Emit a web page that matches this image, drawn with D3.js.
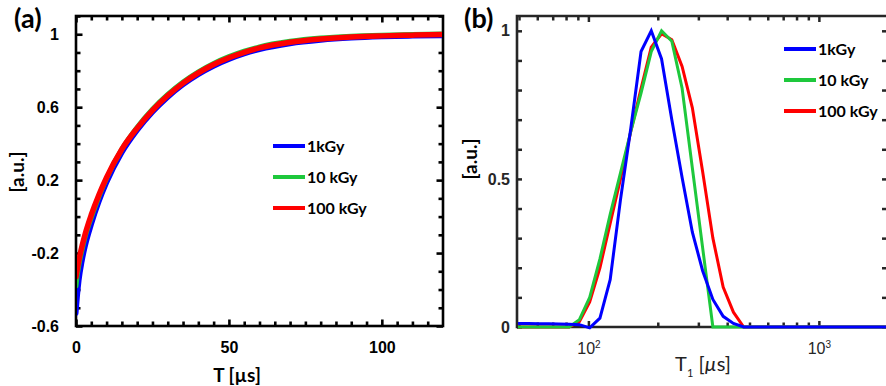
<!DOCTYPE html>
<html>
<head>
<meta charset="utf-8">
<script src="https://cdn.jsdelivr.net/npm/d3@7/dist/d3.min.js"></script>
<style>
    body { margin: 0; background: #fff; }
    svg { display: block; font-family: Lato, "Open Sans", sans-serif; }
</style>
</head>
<body>
<svg id="chart" width="886" height="386"></svg>
<script>
// (a) saturation recovery, time in µs
const timeUs = [0, 0.5, 1, 2, 3, 5, 7.5, 10, 15, 20, 25, 30, 35, 40, 45, 50, 55, 60, 70, 80, 90, 100, 110, 120];
const rec1kGy = [-0.53, -0.43, -0.35, -0.245, -0.165, -0.045, 0.08, 0.185, 0.35, 0.472, 0.572, 0.654, 0.723, 0.779, 0.825, 0.862, 0.892, 0.916, 0.948, 0.967, 0.979, 0.986, 0.99, 0.992];
const rec10kGy = [-0.38, -0.31, -0.26, -0.18, -0.11, -0.005, 0.11, 0.21, 0.37, 0.49, 0.589, 0.670, 0.738, 0.794, 0.840, 0.877, 0.907, 0.931, 0.961, 0.979, 0.989, 0.995, 0.999, 1.001];
const rec100kGy = [-0.33, -0.28, -0.235, -0.16, -0.095, 0.01, 0.12, 0.215, 0.37, 0.485, 0.583, 0.664, 0.732, 0.788, 0.834, 0.871, 0.901, 0.925, 0.956, 0.974, 0.985, 0.991, 0.995, 0.998];

// (b) T1 distributions on a log grid, µs
const t1Us = [49.4, 54.8, 60.7, 67.2, 74.5, 82.5, 91.4, 101.3, 112.2, 124.3, 137.8, 152.7, 169.2, 187.4, 207.7, 230.1, 255.0, 282.5, 313.0, 346.8, 384.3, 425.8, 471.8, 522.7, 579.2, 1000, 2000];
const dist1kGy = [0.012, 0.012, 0.011, 0.011, 0.010, 0.009, 0.008, -0.003, 0.03, 0.16, 0.43, 0.67, 0.93, 1.0, 0.905, 0.70, 0.505, 0.32, 0.19, 0.093, 0.036, 0.012, 0, 0, 0, 0, 0];
const dist10kGy = [0, 0, 0, 0, 0, 0, 0.025, 0.10, 0.23, 0.38, 0.52, 0.66, 0.79, 0.93, 1.0, 0.965, 0.806, 0.537, 0.268, 0, 0, 0, 0, 0, 0, 0, 0];
const dist100kGy = [0, 0, 0, 0, 0, 0, 0.018, 0.085, 0.20, 0.35, 0.50, 0.66, 0.805, 0.945, 0.99, 0.97, 0.88, 0.74, 0.525, 0.30, 0.135, 0.05, 0, 0, 0, 0, 0];

const doses = ["1kGy", "10 kGy", "100 kGy"];
const colors = ["#0000ff", "#1ec83c", "#ff0000"];

const ticksA_x = [0, 50, 100];
const ticksA_y = [-0.6, -0.2, 0.2, 0.6, 1];
const ticksB_x = [100, 1000];
const ticksB_y = [0, 0.5, 1];

const svg = d3.select("#chart");

function styleAxis(g, color, width) {
    g.select(".domain").remove();
    g.selectAll("line").attr("stroke", color).attr("stroke-width", width);
    g.selectAll("text").attr("fill", color);
    return g;
}

// ---------- panel (a) ----------
const xA = d3.scaleLinear().domain([0, 120]).range([76, 443]);
const yA = d3.scaleLinear().domain([-0.6, 1.1]).range([326, 16]);
const minorAx = d3.range(5, 120, 5).filter(v => v % 50 !== 0);
const minorAy = d3.range(-6, 12).filter(i => (i + 6) % 4 !== 0).map(i => i / 10);

const gA = svg.append("g");
gA.append("rect")
    .attr("x", 76).attr("y", 16).attr("width", 367).attr("height", 310)
    .attr("fill", "none").attr("stroke", "#000").attr("stroke-width", 2.6);

const fmt = d => String(d);
const axesA = [
    [d3.axisBottom(xA).tickValues(ticksA_x).tickSize(-6.5).tickPadding(16).tickFormat(fmt), "translate(0,326)"],
    [d3.axisBottom(xA).tickValues(minorAx).tickSize(-4.5).tickFormat(""), "translate(0,326)"],
    [d3.axisTop(xA).tickValues(ticksA_x).tickSize(-6.5).tickFormat(""), "translate(0,16)"],
    [d3.axisTop(xA).tickValues(minorAx).tickSize(-4.5).tickFormat(""), "translate(0,16)"],
    [d3.axisLeft(yA).tickValues(ticksA_y).tickSize(-6.5).tickPadding(17).tickFormat(fmt), "translate(76,0)"],
    [d3.axisLeft(yA).tickValues(minorAy).tickSize(-4.5).tickFormat(""), "translate(76,0)"],
    [d3.axisRight(yA).tickValues(ticksA_y).tickSize(-6.5).tickFormat(""), "translate(443,0)"],
    [d3.axisRight(yA).tickValues(minorAy).tickSize(-4.5).tickFormat(""), "translate(443,0)"]
];
axesA.forEach(([ax, tr]) => {
    const g = gA.append("g").attr("transform", tr).call(ax);
    styleAxis(g, "#000", 2.6);
    g.selectAll("text").attr("font-size", 16).attr("font-weight", "bold");
});

svg.append("clipPath").attr("id", "clipA")
    .append("rect").attr("x", 77).attr("y", 17).attr("width", 365).attr("height", 308);

const lineA = d3.line()
    .x((d, i) => xA(timeUs[i]))
    .y(d => yA(d))
    .curve(d3.curveMonotoneX);

const seriesA = [rec1kGy, rec10kGy, rec100kGy];
const widthsA = [5, 5, 5.5];
gA.append("g").attr("clip-path", "url(#clipA)")
    .selectAll("path")
    .data(seriesA)
    .join("path")
    .attr("d", lineA)
    .attr("fill", "none")
    .attr("stroke", (d, i) => colors[i])
    .attr("stroke-width", (d, i) => widthsA[i])
    .attr("stroke-linecap", "round");

const legA = gA.append("g");
doses.forEach((name, i) => {
    const y = 146 + i * 31;
    legA.append("line").attr("x1", 273).attr("x2", 305).attr("y1", y).attr("y2", y)
        .attr("stroke", colors[i]).attr("stroke-width", 4);
    legA.append("text").attr("x", 307).attr("y", y + 6)
        .attr("font-size", 16).attr("font-weight", "bold").text(name);
});

gA.append("text").attr("x", 14).attr("y", 28)
    .attr("font-size", 27).attr("font-weight", "bold").text("(a)");
gA.append("text").attr("transform", "translate(24,172) rotate(-90)")
    .attr("text-anchor", "middle").attr("font-size", 19).attr("font-weight", "bold").text("[a.u.]");
gA.append("text").attr("x", 237).attr("y", 382)
    .attr("text-anchor", "middle").attr("font-size", 19).attr("font-weight", "bold").text("T [µs]");

// ---------- panel (b) ----------
const xB = d3.scaleLog().domain([49, 1975]).range([517, 887]);
const yB = d3.scaleLinear().domain([0, 1.05]).range([327, 16]);
const minorBx = [50, 60, 70, 80, 90, 200, 300, 400, 500, 600, 700, 800, 900];
const minorBy = d3.range(1, 11).filter(i => i % 5 !== 0).map(i => i / 10);
const axisColor = "#262626";

const gB = svg.append("g");
gB.append("path")
    .attr("d", "M887,16H517V327H887")
    .attr("fill", "none").attr("stroke", axisColor).attr("stroke-width", 2.6);

const axesB = [
    [d3.axisBottom(xB).tickValues(ticksB_x).tickSize(-6).tickPadding(16).tickFormat(() => "10"), "translate(0,327)"],
    [d3.axisBottom(xB).tickValues(minorBx).tickSize(-4.5).tickFormat(""), "translate(0,327)"],
    [d3.axisTop(xB).tickValues(ticksB_x).tickSize(-6).tickFormat(""), "translate(0,16)"],
    [d3.axisTop(xB).tickValues(minorBx).tickSize(-4.5).tickFormat(""), "translate(0,16)"],
    [d3.axisLeft(yB).tickValues(ticksB_y).tickSize(-5).tickPadding(7).tickFormat(fmt), "translate(517,0)"],
    [d3.axisLeft(yB).tickValues(minorBy).tickSize(-5).tickFormat(""), "translate(517,0)"],
    [d3.axisRight(yB).tickValues(ticksB_y).tickSize(-5).tickFormat(""), "translate(887,0)"],
    [d3.axisRight(yB).tickValues(minorBy).tickSize(-5).tickFormat(""), "translate(887,0)"]
];
axesB.forEach(([ax, tr], k) => {
    const g = gB.append("g").attr("transform", tr).call(ax);
    styleAxis(g, axisColor, 2.5);
    g.selectAll("text").attr("font-size", 16).attr("font-weight", k === 0 ? "normal" : "bold");
    if (k === 0) {
        g.selectAll("text").append("tspan")
            .attr("dy", -6).attr("font-size", 10)
            .text(d => Math.round(Math.log10(d)));
    }
});

svg.append("clipPath").attr("id", "clipB")
    .append("rect").attr("x", 518).attr("y", 17).attr("width", 368).attr("height", 314);

const lineB = d3.line()
    .x((d, i) => xB(t1Us[i]))
    .y(d => yB(d));

// drawn back to front: 100 kGy, 10 kGy, 1 kGy
const seriesB = [dist1kGy, dist10kGy, dist100kGy];
gB.append("g").attr("clip-path", "url(#clipB)")
    .selectAll("path")
    .data([2, 1, 0])
    .join("path")
    .attr("d", i => lineB(seriesB[i]))
    .attr("fill", "none")
    .attr("stroke", i => colors[i])
    .attr("stroke-width", 3)
    .attr("stroke-linejoin", "miter");

const legB = gB.append("g");
doses.forEach((name, i) => {
    const y = 49 + i * 31;
    legB.append("line").attr("x1", 784).attr("x2", 816).attr("y1", y).attr("y2", y)
        .attr("stroke", colors[i]).attr("stroke-width", 4);
    legB.append("text").attr("x", 818).attr("y", y + 6)
        .attr("font-size", 16).attr("font-weight", "bold").text(name);
});

gB.append("text").attr("x", 464).attr("y", 28)
    .attr("font-size", 27).attr("font-weight", "bold").text("(b)");
gB.append("text").attr("transform", "translate(477,159) rotate(-90)")
    .attr("text-anchor", "middle").attr("font-size", 19).attr("font-weight", "bold").text("[a.u.]");

const xlabB = gB.append("text").attr("x", 703).attr("y", 371)
    .attr("text-anchor", "middle").attr("font-size", 20).attr("fill", "#222");
xlabB.append("tspan").text("T");
xlabB.append("tspan").attr("dy", 6).attr("font-size", 11).text("1");
xlabB.append("tspan").attr("dy", -6).text(" [");
xlabB.append("tspan").attr("font-style", "italic").text("µ");
xlabB.append("tspan").text("s]");
</script>
</body>
</html>
